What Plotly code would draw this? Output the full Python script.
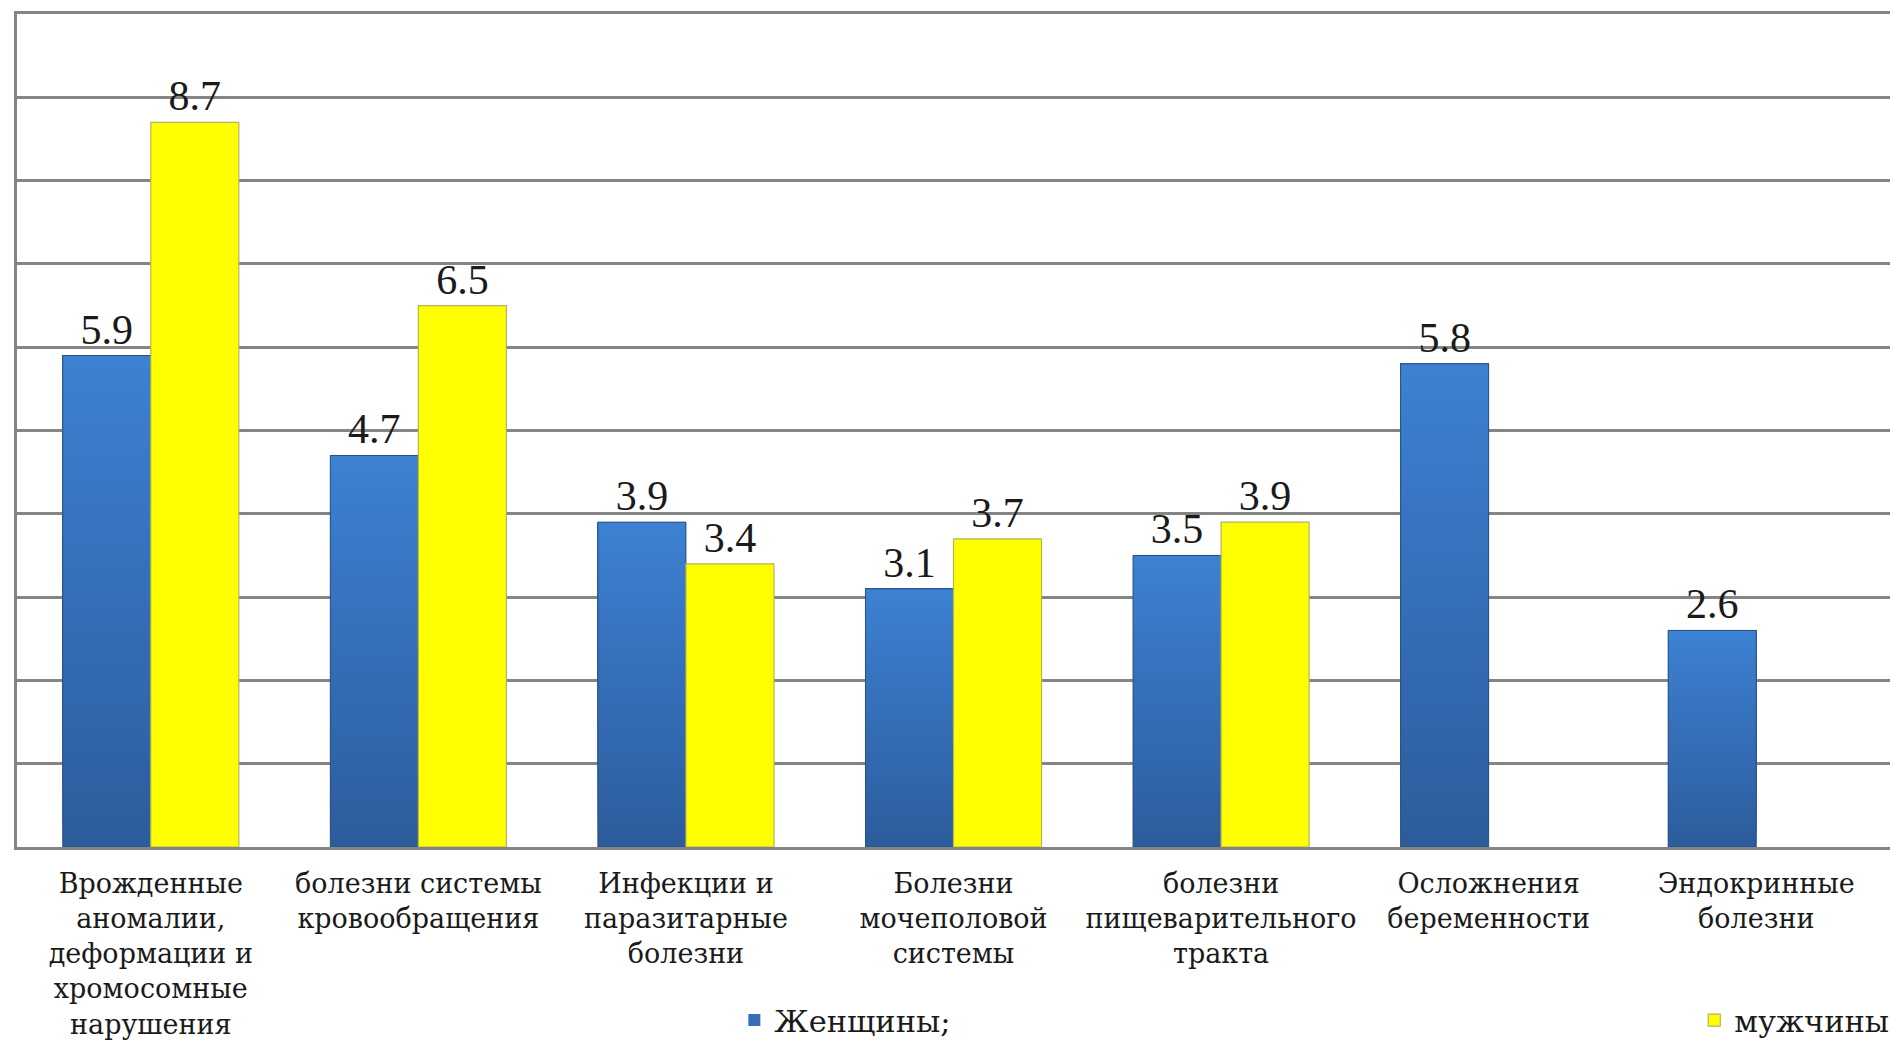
import plotly.graph_objects as go

# Categories of causes and shares by sex
categories = [
    "Врожденные<br>аномалии,<br>деформации и<br>хромосомные<br>нарушения",
    "болезни системы<br>кровообращения",
    "Инфекции и<br>паразитарные<br>болезни",
    "Болезни<br>мочеполовой<br>системы",
    "болезни<br>пищеварительного<br>тракта",
    "Осложнения<br>беременности",
    "Эндокринные<br>болезни",
]
women = [5.9, 4.7, 3.9, 3.1, 3.5, 5.8, 2.6]
men = [8.7, 6.5, 3.4, 3.7, 3.9, None, None]

women_name = "Женщины;"
men_name = "мужчины"

# vertical gradient for the women's bars (bottom -> top)
BOTTOM = (45, 92, 156)
TOP = (60, 129, 211)
N_STEPS = 40


def mix(t):
    r, g, b = (round(BOTTOM[k] + (TOP[k] - BOTTOM[k]) * t) for k in range(3))
    return f"rgb({r},{g},{b})"


x_idx = list(range(len(categories)))
fig = go.Figure()

# each step spans from its base up to the bar top; later steps paint over earlier ones
for i in range(N_STEPS):
    frac = i / N_STEPS
    fig.add_trace(go.Bar(
        x=x_idx,
        y=[v * (1 - frac) for v in women],
        base=[v * frac for v in women],
        offsetgroup="w",
        marker=dict(color=mix((i + 0.5) / N_STEPS), line=dict(width=0)),
        name=women_name,
        legend="legend",
        showlegend=(i == N_STEPS // 2),
        hoverinfo="skip",
    ))

# outline and value labels of the women's bars
fig.add_trace(go.Bar(
    x=x_idx,
    y=women,
    offsetgroup="w",
    marker=dict(color="rgba(0,0,0,0)", line=dict(color="#2b4f80", width=1)),
    text=[f"{v:.1f}" for v in women],
    textposition="outside",
    constraintext="none",
    cliponaxis=False,
    textfont=dict(family="Liberation Serif", size=42, color="#1a1a1a"),
    showlegend=False,
))

fig.add_trace(go.Bar(
    x=x_idx,
    y=men,
    offsetgroup="m",
    name=men_name,
    legend="legend2",
    marker=dict(color="#ffff00", line=dict(color="#b4b45a", width=1.2)),
    text=[f"{v:.1f}" if v is not None else "" for v in men],
    textposition="outside",
    constraintext="none",
    cliponaxis=False,
    textfont=dict(family="Liberation Serif", size=42, color="#1a1a1a"),
))

legend_style = dict(
    orientation="h",
    xanchor="left",
    y=-0.208, yanchor="middle",
    font=dict(family="DejaVu Serif", size=30.5, color="#1a1a1a"),
    bgcolor="rgba(0,0,0,0)",
)

fig.update_layout(
    width=1893,
    height=1040,
    margin=dict(l=17, r=3, t=14, b=193, autoexpand=False),
    paper_bgcolor="white",
    plot_bgcolor="white",
    barmode="group",
    bargap=0.342,
    bargroupgap=0,
    font=dict(family="DejaVu Serif", color="#1a1a1a"),
    legend=dict(x=0.383, **legend_style),
    legend2=dict(x=0.8955, **legend_style),
    showlegend=True,
)

fig.update_xaxes(
    tickmode="array",
    tickvals=x_idx,
    ticktext=categories,
    range=[-0.5, len(categories) - 0.5],
    automargin=False,
    showgrid=False,
    showline=True,
    mirror=True,
    linecolor="#858585",
    linewidth=2.5,
    ticks="",
    ticklabelstandoff=11,
    tickfont=dict(family="DejaVu Serif", size=27, color="#1a1a1a"),
)
fig.update_yaxes(
    range=[0, 10],
    dtick=1,
    automargin=False,
    showticklabels=False,
    showgrid=True,
    gridcolor="#858585",
    gridwidth=2.5,
    showline=True,
    linecolor="#858585",
    linewidth=2.5,
    zeroline=False,
)

fig.write_html("out.html")
